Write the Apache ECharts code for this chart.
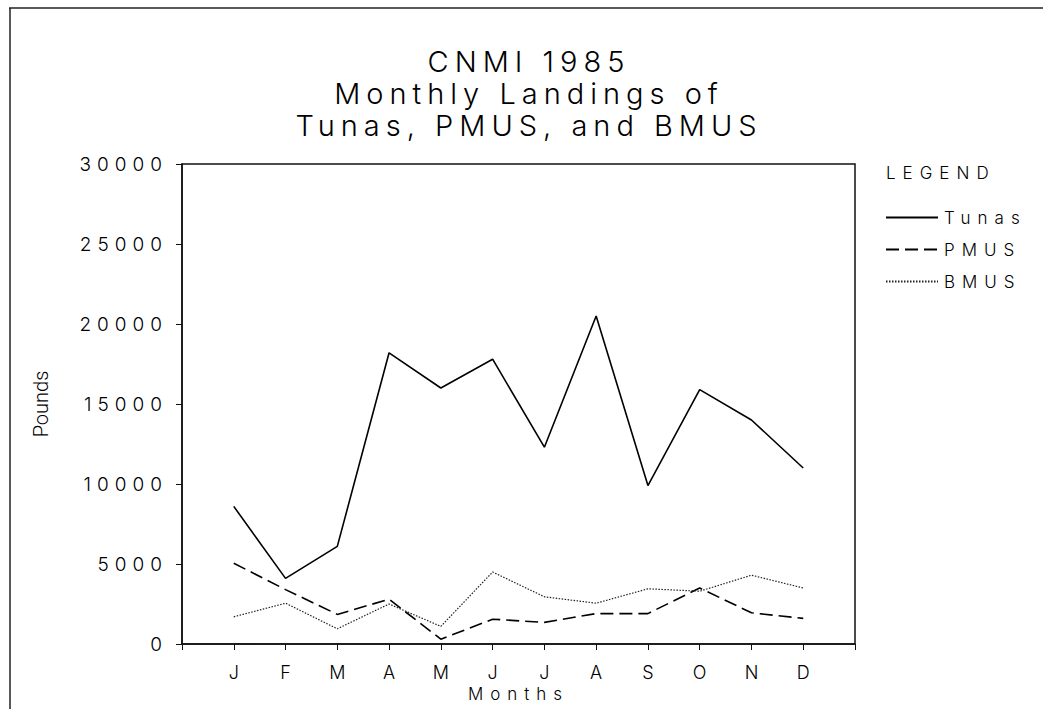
<!DOCTYPE html>
<html>
<head>
<meta charset="utf-8">
<script src="https://cdn.jsdelivr.net/npm/echarts@6/dist/echarts.min.js"></script>
<style>
  html, body { margin: 0; padding: 0; background: #fff; }
  #chart { width: 1043px; height: 709px; }
  #chart svg text[style*="29px"] { letter-spacing: 6px; }
  #chart svg text[style*="19px"] { letter-spacing: 6px; }
  #chart svg text[style*="17px"] { letter-spacing: 7px; }
  #chart svg text[style*="Roboto"] { letter-spacing: 0; }
</style>
</head>
<body>
<div id="chart"></div>
<script>
const months = ['', 'J', 'F', 'M', 'A', 'M', 'J', 'J', 'A', 'S', 'O', 'N', 'D', ''];
const tunas = [8600, 4100, 6100, 18200, 16000, 17800, 12300, 20500, 9900, 15900, 14000, 11000];
const pmus  = [5050, 3400, 1850, 2800, 300, 1550, 1350, 1900, 1900, 3500, 1950, 1600];
const bmus  = [1700, 2550, 950, 2500, 1100, 4500, 2950, 2550, 3450, 3300, 4300, 3500];
const yTicks = [0, 5000, 10000, 15000, 20000, 25000, 30000];
const titleLines = ['CNMI 1985', 'Monthly Landings of', 'Tunas, PMUS, and BMUS'];
const seriesNames = ['Tunas', 'PMUS', 'BMUS'];

const pad = arr => [null].concat(arr).concat([null]);
const font = 'Inter';
const fw = 300;

const chart = echarts.init(document.getElementById('chart'), null, { renderer: 'svg' });
chart.setOption({
  backgroundColor: '#fff',
  animation: false,
  title: {
    text: titleLines.join('\n'),
    left: 524, top: 40, textAlign: 'center',
    textStyle: { fontFamily: font, fontWeight: fw, fontSize: 29, lineHeight: 32, color: '#000' }
  },
  graphic: [
    { type: 'line', shape: { x1: 9, y1: 8, x2: 1043, y2: 8 }, style: { stroke: '#222', lineWidth: 1.5 } },
    { type: 'line', shape: { x1: 10, y1: 8, x2: 10, y2: 709 }, style: { stroke: '#222', lineWidth: 1.5 } },
    { type: 'text', left: 886, top: 164, style: { text: 'LEGEND', fontFamily: font, fontWeight: fw, fontSize: 17, fill: '#000' } }
  ],
  legend: {
    orient: 'vertical', left: 880, top: 204, itemGap: 15,
    itemWidth: 52, itemHeight: 14,
    itemStyle: { opacity: 0 },
    textStyle: { fontFamily: font, fontWeight: fw, fontSize: 17, color: '#000', padding: [0, 0, 0, 1] },
    data: seriesNames
  },
  grid: { left: 182, right: 188, top: 164, bottom: 65, containLabel: false, show: true,
    borderColor: '#111', borderWidth: 1.5, backgroundColor: 'transparent' },
  xAxis: {
    type: 'category', data: months, boundaryGap: false,
    name: 'Months', nameLocation: 'middle', nameGap: 36,
    nameTextStyle: { fontFamily: font, fontWeight: fw, fontSize: 17, color: '#000' },
    axisLine: { lineStyle: { color: '#111', width: 1.5 } },
    axisTick: { length: 6, lineStyle: { color: '#111' }, interval: 0 },
    axisLabel: { fontFamily: font, fontWeight: fw, fontSize: 18, color: '#000', margin: 19, interval: 0 },
    splitLine: { show: false }
  },
  yAxis: {
    type: 'value', min: 0, max: 30000, interval: 5000,
    name: 'Pounds', nameLocation: 'middle', nameGap: 131, nameRotate: 90,
    nameTextStyle: { fontFamily: 'Roboto', fontWeight: 300, fontSize: 20, color: '#000' },
    axisLine: { show: true, lineStyle: { color: '#111', width: 1.5 } },
    axisTick: { show: true, length: 6, lineStyle: { color: '#111' } },
    axisLabel: { fontFamily: font, fontWeight: fw, fontSize: 19, color: '#000', margin: 14,
      formatter: v => yTicks.indexOf(v) >= 0 ? String(v) : '' },
    splitLine: { show: false }
  },
  series: [
    { name: 'Tunas', type: 'line', data: pad(tunas), symbol: 'none', lineStyle: { color: '#000', width: 1.6, type: 'solid' }, itemStyle: { color: '#000' } },
    { name: 'PMUS', type: 'line', data: pad(pmus), symbol: 'none', lineStyle: { color: '#000', width: 1.6, type: [13, 6] }, itemStyle: { color: '#000' } },
    { name: 'BMUS', type: 'line', data: pad(bmus), symbol: 'none', lineStyle: { color: '#222', width: 1.2, type: [1.5, 1.5] }, itemStyle: { color: '#222' } }
  ]
});
</script>
</body>
</html>
